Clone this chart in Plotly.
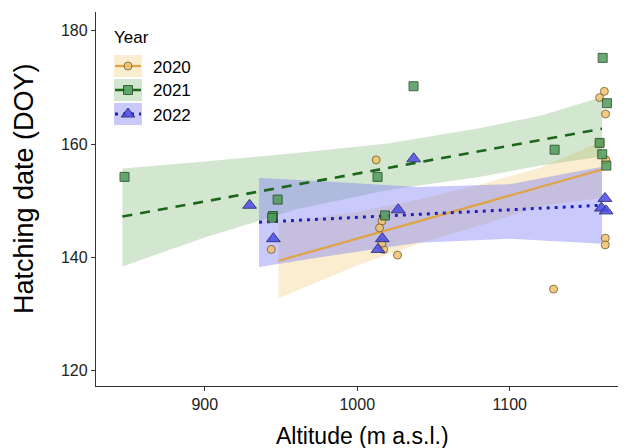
import plotly.graph_objects as go

# ---------------- data ----------------
years = ["2020", "2021", "2022"]

alt_2020 = [943.6, 1012.4, 1016.2, 1014.6, 1017.3, 1016.2, 1026.4, 1128.7,
            1162.0, 1158.9, 1162.8, 1159.0, 1163.0, 1162.6, 1162.6]
hd_2020 = [141.4, 157.2, 146.4, 145.2, 141.4, 142.5, 140.4, 134.4,
           169.3, 168.2, 165.3, 160.2, 157.2, 143.4, 142.2]

alt_2021 = [847.4, 947.8, 944.7, 944.2, 1013.3, 1018.2, 1036.9, 1129.4,
            1160.9, 1163.7, 1158.9, 1160.6, 1163.3]
hd_2021 = [154.2, 150.2, 147.3, 147.0, 154.2, 147.4, 170.2, 159.0,
           175.2, 167.2, 160.2, 158.2, 156.2]

alt_2022 = [929.4, 945.0, 1016.4, 1013.6, 1037.0, 1026.8, 1162.4, 1160.1, 1163.2]
hd_2022 = [149.2, 143.3, 143.3, 141.4, 157.4, 148.4, 150.4, 148.7, 148.2]

# fitted lines (end points)
fit_2020_x = [948.4, 1160.5]
fit_2020_y = [139.4, 155.5]
fit_2021_x = [846.0, 1160.5]
fit_2021_y = [147.2, 162.7]
fit_2022_x = [935.6, 1160.5]
fit_2022_y = [146.2, 149.2]

# confidence bands (edges)
ci_2020_x = [948.4, 1000, 1040, 1080, 1120, 1160.5]
ci_2020_hi = [146.0, 148.0, 150.2, 152.8, 155.8, 160.5]
ci_2020_lo = [132.8, 138.6, 142.4, 145.6, 149.0, 150.5]

ci_2021_x = [846.0, 900, 960, 1020, 1080, 1120, 1160.5]
ci_2021_hi = [155.7, 156.9, 158.4, 160.1, 162.8, 165.0, 168.3]
ci_2021_lo = [138.4, 143.5, 148.5, 151.9, 154.2, 156.2, 157.8]

ci_2022_x = [935.6, 980, 1040, 1100, 1160.5]
ci_2022_hi = [154.0, 153.4, 152.4, 152.9, 156.0]
ci_2022_lo = [138.3, 140.2, 142.6, 143.3, 142.4]

x_ticks = [900, 1000, 1100]
y_ticks = [120, 140, 160, 180]

# ---------------- styles ----------------
FONT = "Liberation Sans, Arial, sans-serif"
band_col = {"2020": "rgba(245,215,150,0.45)",
            "2021": "rgba(120,180,110,0.33)",
            "2022": "rgba(120,120,245,0.40)"}
line_col = {"2020": "#E0A445", "2021": "#1B661B", "2022": "#2222B8"}
line_dash = {"2020": "solid", "2021": "10px,8px", "2022": "3px,5px"}
line_w = {"2020": 2.2, "2021": 2.6, "2022": 3.0}
mk_fill = {"2020": "#EFC36A", "2021": "#4F9A5A", "2022": "#4B4BE6"}
mk_edge = {"2020": "#7A6030", "2021": "#234A23", "2022": "#20206E"}
mk_sym = {"2020": "circle", "2021": "square", "2022": "triangle-up"}
mk_size = {"2020": 8, "2021": 9, "2022": 12}

pts = {"2020": (alt_2020, hd_2020), "2021": (alt_2021, hd_2021), "2022": (alt_2022, hd_2022)}
fits = {"2020": (fit_2020_x, fit_2020_y), "2021": (fit_2021_x, fit_2021_y),
        "2022": (fit_2022_x, fit_2022_y)}
bands = {"2020": (ci_2020_x, ci_2020_hi, ci_2020_lo),
         "2021": (ci_2021_x, ci_2021_hi, ci_2021_lo),
         "2022": (ci_2022_x, ci_2022_hi, ci_2022_lo)}

fig = go.Figure()

for yr in years:
    bx, bhi, blo = bands[yr]
    fig.add_trace(go.Scatter(x=list(bx) + list(bx)[::-1], y=list(bhi) + list(blo)[::-1],
                             fill="toself", fillcolor=band_col[yr], mode="none",
                             hoverinfo="skip", showlegend=False))
for yr in years:
    fx, fy = fits[yr]
    fig.add_trace(go.Scatter(x=fx, y=fy, mode="lines",
                             line=dict(color=line_col[yr], width=line_w[yr], dash=line_dash[yr]),
                             showlegend=False))
for yr in years:
    px, py = pts[yr]
    fig.add_trace(go.Scatter(x=px, y=py, mode="markers",
                             marker=dict(symbol=mk_sym[yr], size=mk_size[yr], color=mk_fill[yr],
                                         opacity=0.85, line=dict(color=mk_edge[yr], width=1)),
                             showlegend=False))

# ---------------- custom legend ----------------
# the page body adds an 8px offset, so the figure is drawn 8px smaller
OFF = 8
FIG_W, FIG_H = 626 - OFF, 448 - OFF
L, T, W, H = 96, 12, 530, 374   # plot area in screen pixels


def pxx(v):
    return (v - L) / W


def pyy(v):
    return 1 - (v - T) / H


rows = [66, 90, 114]
shapes = []
annotations = []
for yr, ry in zip(years, rows):
    shapes.append(dict(type="rect", xref="paper", yref="paper", layer="below",
                       x0=pxx(114), x1=pxx(142), y0=pyy(ry - 11), y1=pyy(ry + 11),
                       fillcolor=band_col[yr], line=dict(width=0)))
    fig.add_trace(go.Scatter(x=[pxx(115), pxx(141)], y=[pyy(ry), pyy(ry)], xaxis="x2", yaxis="y2",
                             mode="lines", showlegend=False, hoverinfo="skip",
                             line=dict(color=line_col[yr], width=line_w[yr], dash=line_dash[yr])))
    fig.add_trace(go.Scatter(x=[pxx(128)], y=[pyy(ry)], xaxis="x2", yaxis="y2", mode="markers",
                             showlegend=False, hoverinfo="skip",
                             marker=dict(symbol=mk_sym[yr], size=mk_size[yr], color=mk_fill[yr],
                                         opacity=0.85, line=dict(color=mk_edge[yr], width=1))))
    annotations.append(dict(text=yr, xref="paper", yref="paper", x=pxx(151), y=pyy(ry + 1),
                            xanchor="left", yanchor="middle", showarrow=False,
                            font=dict(family=FONT, size=17, color="#000")))

annotations.append(dict(text="Year", xref="paper", yref="paper", x=pxx(112), y=pyy(37),
                        xanchor="left", yanchor="middle", showarrow=False,
                        font=dict(family=FONT, size=17, color="#000")))
# axis titles
annotations.append(dict(text="Altitude (m a.s.l.)", xref="paper", yref="paper", x=pxx(362),
                        y=pyy(436), xanchor="center", yanchor="middle", showarrow=False,
                        font=dict(family=FONT, size=23, color="#000")))
annotations.append(dict(text="Hatching date (DOY)", xref="paper", yref="paper", x=pxx(24),
                        y=pyy(189), xanchor="center", yanchor="middle", showarrow=False,
                        textangle=-90, font=dict(family=FONT, size=27, color="#000")))

axis_common = dict(showline=True, linecolor="#333333", linewidth=1.3, ticks="outside",
                   ticklen=4, tickwidth=1.2, tickcolor="#333333", showgrid=False, zeroline=False,
                   tickfont=dict(family=FONT, size=16, color="#222222"))

fig.update_layout(
    width=FIG_W, height=FIG_H,
    margin=dict(l=L - OFF, r=FIG_W - (L - OFF) - W, t=T - OFF, b=FIG_H - (T - OFF) - H),
    paper_bgcolor="white", plot_bgcolor="white",
    showlegend=False,
    xaxis=dict(range=[828.7, 1176.2], tickvals=x_ticks, **axis_common),
    yaxis=dict(range=[117.3, 183.3], tickvals=y_ticks, **axis_common),
    xaxis2=dict(overlaying="x", range=[0, 1], visible=False),
    yaxis2=dict(overlaying="y", range=[0, 1], visible=False),
    shapes=shapes, annotations=annotations,
)

fig.write_html("out.html")
